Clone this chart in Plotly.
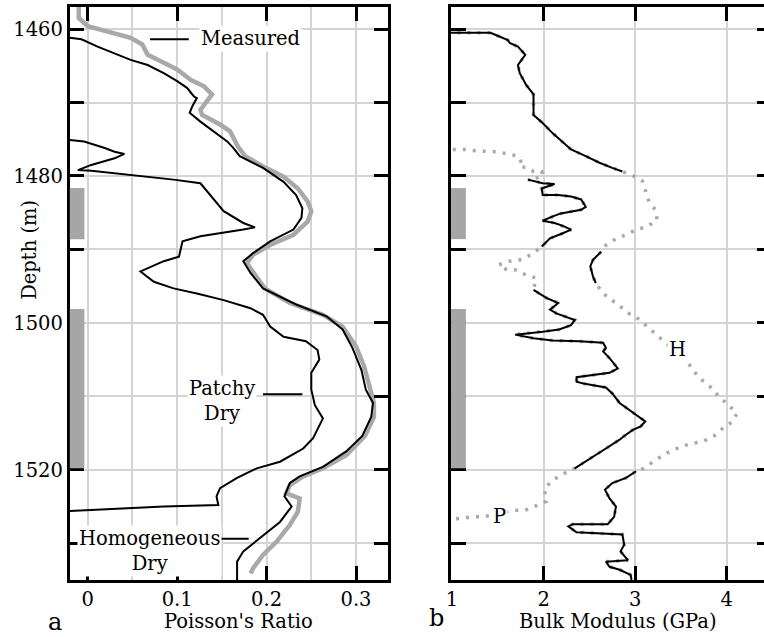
import plotly.graph_objects as go

# ---------------- Panel a: Poisson's ratio ----------------
measured_pr_depth = [1457.0, 1458.5, 1459.6, 1460.3, 1461.2, 1462.1, 1463.5, 1464.6, 1465.5, 1466.9,
                     1467.8, 1468.9, 1469.9, 1471.0, 1471.7, 1473.0, 1473.9, 1476.0, 1477.3, 1478.7,
                     1480.1, 1481.7, 1483.5, 1484.8, 1486.2, 1488.0, 1489.4, 1490.7, 1491.9, 1493.5,
                     1495.3, 1497.3, 1498.9, 1500.5, 1503.2, 1505.9, 1508.7, 1510.9, 1512.8, 1515.4,
                     1518.0, 1519.8, 1520.9, 1522.1, 1523.2, 1523.9, 1525.7, 1527.5, 1529.8, 1531.6,
                     1533.4, 1534.1]
measured_pr = [-0.010, -0.010, 0.000, 0.022, 0.048, 0.061, 0.067, 0.085, 0.100, 0.115,
               0.130, 0.139, 0.133, 0.126, 0.128, 0.148, 0.159, 0.168, 0.176, 0.196,
               0.219, 0.235, 0.246, 0.250, 0.246, 0.230, 0.204, 0.185, 0.178, 0.187,
               0.198, 0.226, 0.263, 0.285, 0.300, 0.309, 0.315, 0.320, 0.320, 0.310,
               0.289, 0.263, 0.241, 0.226, 0.222, 0.237, 0.235, 0.226, 0.211, 0.196,
               0.185, 0.182]

homog_pr_depth = [1461.2, 1461.4, 1462.4, 1463.3, 1464.2, 1464.9, 1466.0, 1467.1, 1468.0, 1469.2,
                  1469.4, 1470.5, 1471.4, 1472.6, 1473.9, 1475.3, 1476.2, 1477.3, 1478.9, 1480.8,
                  1482.6, 1484.4, 1485.7, 1487.3, 1488.9, 1490.5, 1491.6, 1493.2, 1495.3, 1497.5,
                  1499.1, 1500.9, 1503.4, 1506.4, 1509.1, 1510.9, 1512.8, 1515.4, 1517.5, 1519.6,
                  1520.9, 1521.8, 1523.6, 1525.0, 1527.1, 1528.9, 1531.1, 1532.5, 1535.0]
homog_pr = [-0.020, -0.007, 0.011, 0.030, 0.048, 0.067, 0.085, 0.100, 0.111, 0.119,
            0.122, 0.117, 0.114, 0.126, 0.141, 0.156, 0.163, 0.170, 0.196, 0.219,
            0.233, 0.240, 0.239, 0.230, 0.204, 0.185, 0.174, 0.182, 0.196, 0.233,
            0.267, 0.285, 0.296, 0.306, 0.311, 0.319, 0.317, 0.307, 0.289, 0.263,
            0.237, 0.226, 0.220, 0.228, 0.215, 0.196, 0.174, 0.167, 0.167]

patchy_pr_depth = [1475.1, 1475.3, 1476.2, 1476.7, 1477.0, 1477.6, 1478.5, 1479.2, 1479.3, 1479.8,
                   1480.1, 1480.5, 1481.0, 1482.6, 1484.8, 1486.4, 1487.0, 1487.3, 1487.8, 1488.2,
                   1488.9, 1491.0, 1491.6, 1493.0, 1494.4, 1495.3, 1496.0, 1496.9, 1498.0, 1498.9,
                   1500.5, 1501.9, 1502.5, 1503.7, 1505.0, 1506.8, 1509.1, 1511.2, 1513.0, 1514.6,
                   1515.7, 1517.1, 1518.9, 1519.8, 1521.1, 1522.5, 1523.6, 1524.8, 1525.0, 1525.6]
patchy_pr = [-0.020, -0.004, 0.019, 0.030, 0.041, 0.030, 0.004, -0.011, 0.004, 0.041,
             0.070, 0.096, 0.126, 0.137, 0.152, 0.174, 0.187, 0.174, 0.144, 0.126,
             0.106, 0.102, 0.085, 0.059, 0.074, 0.096, 0.122, 0.152, 0.182, 0.196,
             0.204, 0.219, 0.244, 0.257, 0.259, 0.250, 0.250, 0.254, 0.263, 0.256,
             0.252, 0.241, 0.215, 0.189, 0.167, 0.148, 0.144, 0.146, 0.085, -0.020]

# ---------------- Panel b: Bulk modulus (GPa) ----------------
k_seg_a = [0.95, 1.42, 1.61, 1.63, 1.72, 1.80, 1.72, 1.74, 1.81, 1.89, 1.89, 1.99, 2.10, 2.21, 2.30, 2.46, 2.61, 2.75, 2.86]
k_seg_a_depth = [1460.5, 1460.5, 1461.5, 1461.9, 1462.4, 1463.5, 1464.9, 1466.0, 1467.6, 1468.9,
                 1471.7, 1472.8, 1474.2, 1475.4, 1476.4, 1477.3, 1478.2, 1478.9, 1479.4]
k_seg_b = [1.83, 1.99, 2.12, 1.98, 1.99, 2.16, 2.30, 2.41, 2.46, 2.41, 2.19, 2.10, 1.99, 2.12, 2.21, 2.30, 2.21, 2.07, 1.98]
k_seg_b_depth = [1480.5, 1481.0, 1481.1, 1481.7, 1482.6, 1482.6, 1482.8, 1483.2, 1484.2, 1484.6,
                 1485.1, 1485.5, 1486.1, 1486.4, 1486.8, 1487.3, 1487.8, 1488.5, 1489.6]
k_seg_c = [2.63, 2.54, 2.51, 2.54, 2.57]
k_seg_c_depth = [1490.3, 1491.4, 1492.3, 1493.7, 1494.6]
k_seg_d = [1.89, 2.03, 2.16, 2.07, 2.14, 2.34, 2.30, 2.17, 1.99, 1.69, 1.89, 2.10, 2.39, 2.65, 2.68, 2.65,
           2.72, 2.81, 2.72, 2.46, 2.36, 2.36, 2.45, 2.68, 2.75, 2.83, 2.93, 3.02, 3.11, 3.06, 2.97,
           2.88, 2.83, 2.68, 2.54, 2.39, 2.34]
k_seg_d_depth = [1495.5, 1496.6, 1497.3, 1498.2, 1498.7, 1499.6, 1500.3, 1500.9, 1501.2, 1501.6, 1502.1,
                 1502.4, 1502.5, 1502.7, 1503.4, 1503.9, 1504.8, 1506.2, 1506.8, 1507.2, 1507.4, 1508.0,
                 1508.3, 1508.8, 1509.6, 1510.9, 1511.8, 1512.5, 1513.4, 1514.1, 1514.6, 1515.4, 1515.9,
                 1517.1, 1518.2, 1519.3, 1519.8]
k_seg_e = [3.01, 2.90, 2.75, 2.67, 2.72, 2.79, 2.77, 2.70, 2.32, 2.27, 2.36, 2.86, 2.88, 2.84, 2.92,
           2.68, 2.72, 2.83, 2.95, 2.96]
k_seg_e_depth = [1520.2, 1521.1, 1521.8, 1522.7, 1523.9, 1525.0, 1526.4, 1527.4, 1527.4, 1527.7,
                 1528.5, 1528.8, 1530.2, 1531.1, 1532.3, 1532.5, 1533.2, 1533.6, 1534.3, 1535.0]

# Homogeneous (H) model: where it departs from the measured segments
k_h_dev1 = [2.95, 3.08, 3.12, 3.15, 3.22, 3.24, 3.13, 3.01, 2.90, 2.77, 2.66]
k_h_dev1_depth = [1479.8, 1480.7, 1482.1, 1483.5, 1484.6, 1486.0, 1486.9, 1487.3, 1488.0, 1488.7, 1489.6]
k_h_dev2 = [2.65, 2.77, 2.86, 2.95, 3.04, 3.13, 3.21, 3.39, 3.57, 3.64, 3.73, 3.84, 3.91, 4.02, 4.11,
            4.07, 3.96, 3.86, 3.73, 3.62, 3.51, 3.38, 3.28, 3.15, 3.04]
k_h_dev2_depth = [1496.0, 1497.1, 1498.0, 1498.9, 1499.5, 1500.5, 1501.4, 1503.4, 1505.3, 1506.6,
                  1507.8, 1508.9, 1510.0, 1511.2, 1512.3, 1513.4, 1514.3, 1515.4, 1516.2, 1516.4,
                  1516.8, 1517.5, 1518.2, 1519.3, 1520.2]

# Patchy (P) model: where it departs from the measured segments
k_p_top = [0.90, 1.04, 1.15, 1.27, 1.38, 1.49, 1.61, 1.72, 1.76, 1.74, 1.83, 1.89, 1.98, 1.99]
k_p_top_depth = [1476.4, 1476.4, 1476.4, 1476.6, 1476.7, 1476.7, 1477.0, 1477.3, 1478.2, 1478.7,
                 1478.9, 1479.4, 1479.4, 1480.1]
k_p_mid = [1.89, 1.76, 1.63, 1.51, 1.60, 1.70, 1.81, 1.92, 1.90]
k_p_mid_depth = [1490.5, 1491.4, 1491.6, 1492.1, 1492.8, 1492.8, 1493.5, 1493.9, 1494.8]
k_p_tail = [2.19, 2.08, 2.01, 2.03, 1.90, 1.80, 1.69, 1.34, 1.22, 1.11, 0.90]
k_p_tail_depth = [1520.7, 1521.6, 1522.7, 1524.3, 1525.0, 1525.5, 1525.5, 1526.4, 1526.4, 1526.6, 1526.8]

# Gas zones (grey bars on the depth axis)
zone_top = [1481.65, 1498.1]
zone_bottom = [1488.6, 1519.8]

depth_ticks = [1460, 1470, 1480, 1490, 1500, 1510, 1520, 1530]
depth_labels = ["1460", "", "1480", "", "1500", "", "1520", ""]
pr_ticks = [0, 0.1, 0.2, 0.3]
pr_labels = ["0", "0.1", "0.2", "0.3"]
pr_minor = [0.05, 0.15, 0.25]
k_ticks = [1, 2, 3, 4]
k_labels = ["1", "2", "3", "4"]

FONT = "DejaVu Serif"
FS = 19.5
GRID = "#d4d4d4"
GREY = "#a9a9a9"

W, H = 764, 637

fig = go.Figure()

# panel a traces
fig.add_trace(go.Scatter(x=measured_pr, y=measured_pr_depth, mode="lines",
                         line=dict(color=GREY, width=4.5), xaxis="x", yaxis="y", hoverinfo="skip"))
fig.add_trace(go.Scatter(x=homog_pr, y=homog_pr_depth, mode="lines",
                         line=dict(color="black", width=2), xaxis="x", yaxis="y", hoverinfo="skip"))
fig.add_trace(go.Scatter(x=patchy_pr, y=patchy_pr_depth, mode="lines",
                         line=dict(color="black", width=2), xaxis="x", yaxis="y", hoverinfo="skip"))

# panel b: model curves (dotted grey)
h_x = k_seg_a + k_h_dev1 + k_seg_c + k_h_dev2 + k_seg_e
h_y = k_seg_a_depth + k_h_dev1_depth + k_seg_c_depth + k_h_dev2_depth + k_seg_e_depth
p_x = k_p_top + k_seg_b + k_p_mid + k_seg_d + k_p_tail
p_y = k_p_top_depth + k_seg_b_depth + k_p_mid_depth + k_seg_d_depth + k_p_tail_depth
for xs, ys in [(h_x, h_y), (p_x, p_y)]:
    fig.add_trace(go.Scatter(x=xs, y=ys, mode="lines",
                             line=dict(color=GREY, width=3.5, dash="3px,7px"),
                             xaxis="x2", yaxis="y2", hoverinfo="skip"))

# panel b: measured segments (solid black)
seg_x, seg_y = [], []
for xs, ys in [(k_seg_a, k_seg_a_depth), (k_seg_b, k_seg_b_depth), (k_seg_c, k_seg_c_depth),
               (k_seg_d, k_seg_d_depth), (k_seg_e, k_seg_e_depth)]:
    seg_x += xs + [None]
    seg_y += ys + [None]
fig.add_trace(go.Scatter(x=seg_x, y=seg_y, mode="lines", connectgaps=False,
                         line=dict(color="black", width=2), xaxis="x2", yaxis="y3", hoverinfo="skip"))

x_range_a = [-0.0203, 0.3363]
x_range_b = [0.99, 4.406]
y_range = [1535, 1457]
ydom = [1 - 580 / H, 1 - 7 / H]

tickfont = dict(family=FONT, size=FS, color="black")
common_axis = dict(showline=True, linecolor="black", linewidth=2.5, ticks="inside",
                   tickcolor="black", tickwidth=2.5, zeroline=False, tickfont=tickfont,
                   gridcolor=GRID, gridwidth=2)

fig.update_layout(
    width=W, height=H, margin=dict(l=0, r=0, t=0, b=0),
    paper_bgcolor="white", plot_bgcolor="white", showlegend=False,
    xaxis=dict(common_axis, domain=[65 / W, 386 / W], range=x_range_a, tickvals=pr_ticks,
               ticktext=pr_labels, ticklen=14, mirror="ticks", showgrid=True, anchor="y",
               minor=dict(tickvals=pr_minor, showgrid=True, gridcolor=GRID, gridwidth=2, ticks="")),
    yaxis=dict(common_axis, domain=ydom, range=y_range, tickvals=depth_ticks, ticktext=depth_labels,
               ticklen=15, mirror="ticks", showgrid=True, anchor="x"),
    xaxis2=dict(common_axis, domain=[449 / W, 1], range=x_range_b, tickvals=k_ticks, ticktext=k_labels,
                ticklen=14, mirror="ticks", showgrid=True, anchor="y2"),
    yaxis2=dict(common_axis, domain=ydom, range=y_range, tickvals=depth_ticks, showticklabels=False,
                ticklen=15, mirror=False, showgrid=True, anchor="x2"),
    yaxis3=dict(overlaying="y2", anchor="x2", side="right", range=y_range, tickvals=depth_ticks,
                showticklabels=False, ticks="inside", ticklen=7, tickwidth=2.5, tickcolor="black",
                showline=False, showgrid=False, zeroline=False),
)

shapes = []
for t, b in zip(zone_top, zone_bottom):
    shapes.append(dict(type="rect", xref="x", yref="y", x0=x_range_a[0], x1=-0.0037, y0=t, y1=b,
                       fillcolor="#a6a6a6", line=dict(width=0), layer="above"))
    shapes.append(dict(type="rect", xref="x2", yref="y2", x0=x_range_b[0], x1=1.152, y0=t, y1=b,
                       fillcolor="#a6a6a6", line=dict(width=0), layer="above"))
# label leader lines
for x0, x1, yv in [(0.0697, 0.113, 1461.4), (0.196, 0.240, 1509.7), (0.146, 0.180, 1529.4)]:
    shapes.append(dict(type="line", xref="x", yref="y", x0=x0, x1=x1, y0=yv, y1=yv,
                       line=dict(color="black", width=2), layer="above"))
fig.update_layout(shapes=shapes)

lab = dict(family=FONT, size=FS, color="black")
ann = [
    dict(text="Measured", x=0.182, y=1461.3, xref="x", yref="y"),
    dict(text="Patchy<br>Dry", x=0.150, y=1510.6, xref="x", yref="y"),
    dict(text="Homogeneous<br>Dry", x=0.069, y=1531.0, xref="x", yref="y"),
    dict(text="H", x=3.46, y=1503.6, xref="x2", yref="y2"),
    dict(text="P", x=1.52, y=1526.4, xref="x2", yref="y2"),
]
for a in ann:
    fig.add_annotation(showarrow=False, font=lab, bgcolor="white", borderpad=1, **a)

for text, px, py, size, ang in [
    ("a", 50, 622, 24, 0), ("b", 434, 618, 24, 0),
    ("Poisson's Ratio", 234.7, 621, FS, 0), ("Bulk Modulus (GPa)", 616.7, 621, FS, 0),
    ("Depth (m)", 24, 250, FS, -90),
]:
    fig.add_annotation(text=text, x=px / W, y=1 - py / H, xref="paper", yref="paper",
                       showarrow=False, textangle=ang, xanchor="center", yanchor="middle",
                       font=dict(family=FONT, size=size, color="black"))

fig.write_html("out.html", config={"displayModeBar": False},
               post_script="document.body.style.margin='0';document.body.style.overflow='hidden';")
